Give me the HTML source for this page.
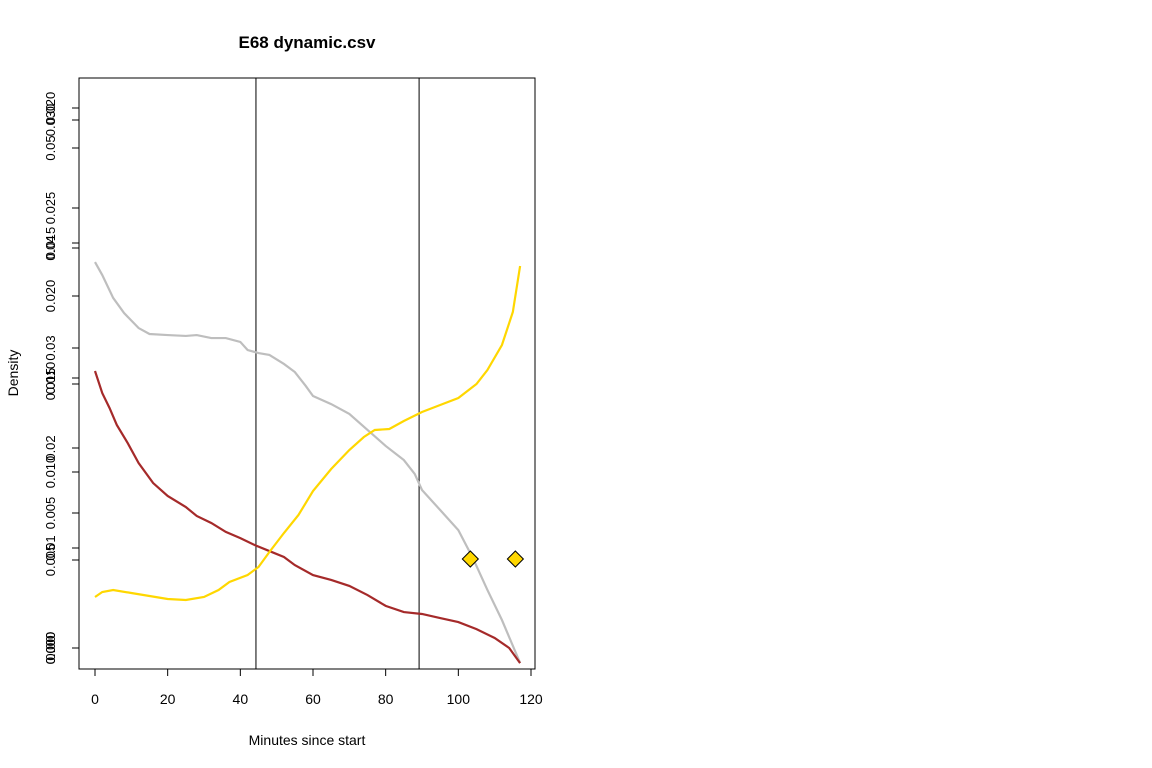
<!DOCTYPE html>
<html><head><meta charset="utf-8"><style>
body{margin:0;background:#fff;}
svg{display:block;font-family:"Liberation Sans",Arial,sans-serif;}
</style></head><body>
<svg id="chart" width="1152" height="768" viewBox="0 0 1152 768">
<text x="307" y="48" font-size="17" font-weight="bold" text-anchor="middle">E68 dynamic.csv</text>
<text x="307" y="745" font-size="14" text-anchor="middle">Minutes since start</text>
<text transform="translate(18,373) rotate(-90)" font-size="14" text-anchor="middle">Density</text>
<rect x="79" y="78" width="456" height="591" fill="none" stroke="#000" stroke-width="1"/>
<g id="axes"></g>
<g id="marks"></g>
</svg>
<script>
const xTicks=[0,20,40,60,80,100,120];
const vLines=[44.3,89.2];
const grayX=[0,2,5,8,12,15,20,25,28,32,36,40,42,45,48,52,55,58,60,65,70,75,80,85,88,90,95,100,104,108,112,117];
const grayY=[0.02193,0.02119,0.01989,0.01903,0.01818,0.01784,0.01778,0.01773,0.01778,0.01761,0.01761,0.01739,0.01693,0.01676,0.01665,0.01614,0.01568,0.01489,0.01432,0.01386,0.0133,0.01239,0.01148,0.01068,0.00989,0.00898,0.00784,0.0067,0.00511,0.0033,0.00159,-0.00085];
const brownX=[0,2,4,6,9,12,16,20,25,28,32,36,40,44,48,52,55,60,65,70,75,80,85,90,95,100,105,110,114,117];
const brownY=[0.01026,0.00944,0.00889,0.00826,0.00759,0.00685,0.00611,0.00563,0.00522,0.00489,0.00463,0.0043,0.00407,0.00381,0.00359,0.00337,0.00307,0.0027,0.00252,0.0023,0.00196,0.00156,0.00133,0.00126,0.00111,0.00096,0.0007,0.00037,0,-0.00056];
const goldX=[0,2,5,10,15,20,25,30,34,37,42,45,48,52,56,60,65,70,74,77,81,85,90,95,100,105,108,112,115,117];
const goldY=[0.0051,0.0056,0.0058,0.0055,0.0052,0.0049,0.0048,0.0051,0.0058,0.0066,0.0073,0.0081,0.0096,0.0115,0.0133,0.0157,0.0179,0.0198,0.0211,0.0218,0.0219,0.0227,0.0236,0.0243,0.0250,0.0264,0.0278,0.0303,0.0336,0.0382];
const pointX=[103.3,115.7];
const pointY=[0.0089,0.0089];
const axisATicks=[0,0.005,0.010,0.015,0.020,0.025,0.030];
const axisALabels=["0.000","0.005","0.010","0.015","0.020","0.025","0.030"];
const axisBTicks=[0,0.01,0.02,0.03,0.04,0.05];
const axisBLabels=["0.00","0.01","0.02","0.03","0.04","0.05"];
const axisCTicks=[0,0.005,0.010,0.015,0.020];
const axisCLabels=["0.000","0.005","0.010","0.015","0.020"];

const NS="http://www.w3.org/2000/svg";
const xS=v=>95+v*(436/120);
const yA=v=>648-v*17600;
const yB=v=>648-v*10000;
const yC=v=>648-v*27000;
const axes=document.getElementById('axes'), marks=document.getElementById('marks');
function mk(tag,attrs,parent){const e=document.createElementNS(NS,tag);for(const k in attrs)e.setAttribute(k,attrs[k]);parent.appendChild(e);return e;}

xTicks.forEach((t,i)=>{
  const l=mk('line',{x1:xS(t),x2:xS(t),y1:669,y2:676,stroke:'#000'},axes);
  
  
  const tx=mk('text',{x:xS(t),y:704,'font-size':14,'text-anchor':'middle'},axes);
  tx.textContent=t;
  
  
});
mk('line',{x1:xS(0),x2:xS(120),y1:669,y2:669,stroke:'#000'},axes);
function yAxis(ticks,labels,sc,name){
  const g=mk('g',{},axes);
  
  
  mk('line',{x1:79,x2:79,y1:sc(ticks[ticks.length-1]),y2:sc(ticks[0]),stroke:'#000'},g);
  ticks.forEach((t,i)=>{
    mk('line',{x1:72,x2:79,y1:sc(t),y2:sc(t),stroke:'#000'},g);
    const tx=mk('text',{transform:`translate(55,${sc(t)}) rotate(-90)`,'font-size':13,'text-anchor':'middle','fill':'#000'},g);
    tx.textContent=labels[i];
  });
}
yAxis(axisATicks,axisALabels,yA,'y-axis-a');
yAxis(axisBTicks,axisBLabels,yB,'y-axis-b');
yAxis(axisCTicks,axisCLabels,yC,'y-axis-c');

vLines.forEach(v=>{
  const l=mk('line',{x1:xS(v),x2:xS(v),y1:78,y2:669,stroke:'#000','stroke-width':1},marks);
  
  
});
function series(xs,ys,sc,color,name){
  const p=mk('polyline',{points:xs.map((x,i)=>xS(x)+','+sc(ys[i])).join(' '),fill:'none',stroke:color,'stroke-width':2.2},marks);
  
  
}
series(grayX,grayY,yA,'#bebebe','gray-density-line');
series(brownX,brownY,yC,'#a52a2a','brown-density-line');
series(goldX,goldY,yB,'#ffd700','gold-density-line');
pointX.forEach((x,i)=>{
  const cx=xS(x), cy=yB(pointY[i]);
  const d=mk('polygon',{points:`${cx},${cy-8} ${cx+8},${cy} ${cx},${cy+8} ${cx-8},${cy}`,fill:'#ffd700',stroke:'#000','stroke-width':1},marks);
  
  
});
</script>
</body></html>
